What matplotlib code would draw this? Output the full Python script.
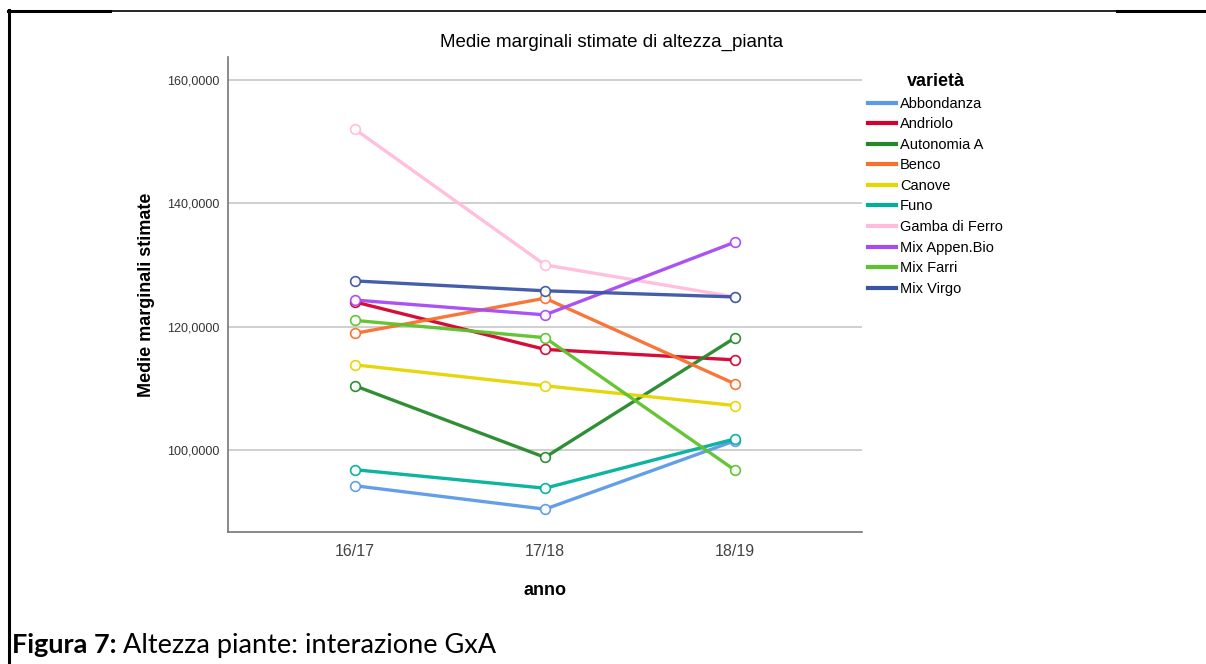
import matplotlib.pyplot as plt
from matplotlib.lines import Line2D

years = ['16/17', '17/18', '18/19']

varieties = ['Abbondanza', 'Andriolo', 'Autonomia A', 'Benco', 'Canove',
             'Funo', 'Gamba di Ferro', 'Mix Appen.Bio', 'Mix Farri', 'Mix Virgo']

abbondanza = [94.2, 90.4, 101.5]
andriolo = [124.0, 116.3, 114.6]
autonomia = [110.4, 98.8, 118.2]
benco = [118.9, 124.6, 110.7]
canove = [113.8, 110.4, 107.2]
funo = [96.8, 93.8, 101.8]
gamba = [152.0, 130.0, 124.8]
mix_appen = [124.3, 121.9, 133.7]
mix_farri = [121.0, 118.2, 96.7]
mix_virgo = [127.4, 125.8, 124.8]

values = [abbondanza, andriolo, autonomia, benco, canove,
          funo, gamba, mix_appen, mix_farri, mix_virgo]

colors = ['#5b9ae6', '#d4002e', '#25882a', '#f7702e', '#e5d500',
          '#00b09b', '#ffbcdc', '#a64af5', '#5ec22c', '#3a55a5']

y_ticks = [100, 120, 140, 160]

plt.rcParams['font.family'] = ['Liberation Sans', 'DejaVu Sans']

fig = plt.figure(figsize=(12.06, 6.64), dpi=100)
ax = fig.add_axes([228 / 1206, 132 / 664, 634 / 1206, 475 / 664])

x = range(len(years))
for name, vals, c in zip(varieties, values, colors):
    ax.plot(x, vals, color=c, lw=2.4, zorder=3,
            marker='o', ms=7, mfc='white', mec=c, mew=1.2, alpha=0.95)

ax.set_xlim(-0.667, 2.667)
ax.set_ylim(86.7, 163.7)
ax.set_xticks(list(x))
ax.set_xticklabels(years, fontsize=11.5, color='#444444')
ax.set_yticks(y_ticks)
ax.set_yticklabels([f'{v},0000' for v in y_ticks], fontsize=9, color='#333333')
ax.tick_params(axis='both', length=0, pad=9)
ax.tick_params(axis='y', pad=6)
ax.grid(axis='y', color='#cccccc', lw=1.3, zorder=0)

for s in ['top', 'right']:
    ax.spines[s].set_visible(False)
for s in ['left', 'bottom']:
    ax.spines[s].set_color('#777777')
    ax.spines[s].set_linewidth(1.2)

ax.set_ylabel('Medie marginali stimate', fontsize=13, fontweight='bold', labelpad=9)
ax.set_xlabel('anno', fontsize=13, fontweight='bold', labelpad=16)

fig.text(612 / 1206, 1 - 42 / 664, 'Medie marginali stimate di altezza_pianta',
         ha='center', va='center', fontsize=13.5)

handles = [Line2D([0], [0], color=c, lw=3) for c in colors]
leg = fig.legend(handles, varieties, loc='upper left',
                 bbox_to_anchor=(855 / 1206, 1 - 60 / 664), frameon=False,
                 fontsize=10.5, title='varietà', handlelength=1.9,
                 handletextpad=0.3, labelspacing=0.45)
leg.get_title().set_fontweight('bold')
leg.get_title().set_fontsize(13)
leg._legend_box.align = 'center'

# page frame
fig.add_artist(Line2D([8 / 1206, 1.0], [1 - 11 / 664] * 2, color='black', lw=1.2))
fig.add_artist(Line2D([8 / 1206, 110 / 1206], [1 - 11 / 664] * 2, color='black', lw=2.2))
fig.add_artist(Line2D([1117 / 1206, 1.0], [1 - 11 / 664] * 2, color='black', lw=2.2))
fig.add_artist(Line2D([9 / 1206] * 2, [0, 1 - 10 / 664], color='black', lw=2.2))

cap = fig.text(12 / 1206, 1 - 645 / 664, 'Figura 7:', fontsize=19.5, fontweight='bold',
               family='Lato', va='center', ha='left')
fig.canvas.draw()
bb = cap.get_window_extent()
fig.text((bb.x1 + 6) / 1206, 1 - 645 / 664, 'Altezza piante: interazione GxA', fontsize=19.5,
         family='Lato', va='center', ha='left')

fig.savefig('out.png', dpi=100)
